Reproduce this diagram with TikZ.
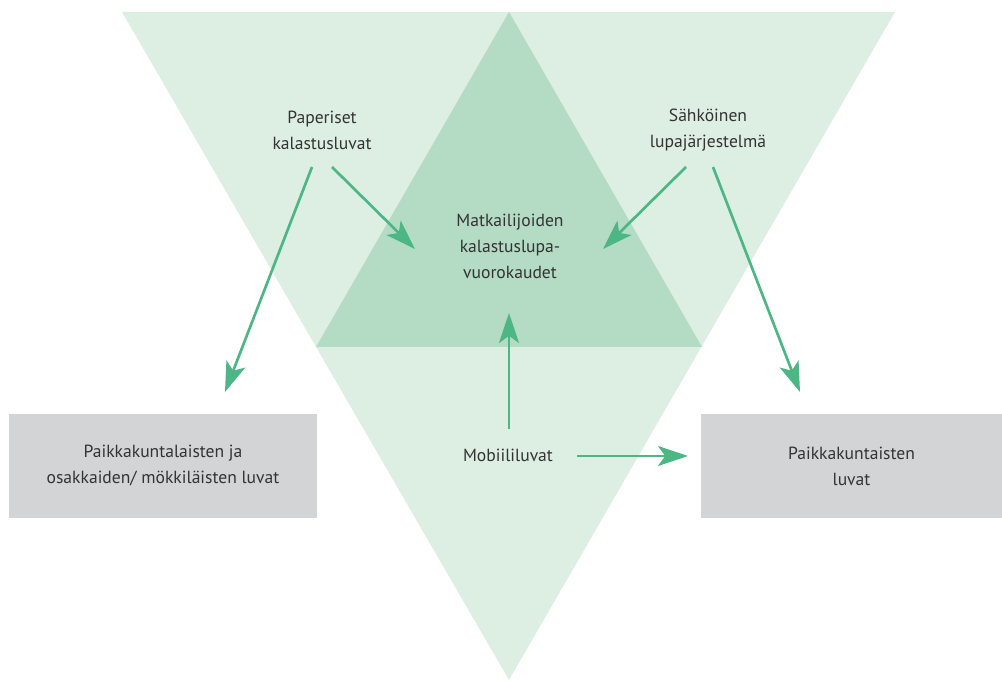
\documentclass[tikz,border=0pt]{standalone}
\usepackage{fontspec}
\setmainfont{PT Sans}
\usetikzlibrary{arrows.meta}
\definecolor{lightgreen}{HTML}{DDEEE2}
\definecolor{darkgreen}{HTML}{B4DBC4}
\definecolor{boxgray}{HTML}{D3D4D6}
\definecolor{arrowgreen}{HTML}{4DB685}
\definecolor{textgray}{HTML}{333333}
\tikzset{
	txt/.style={align=center,text=textgray,font=\fontsize{12.5}{18.5}\selectfont},
	permbox/.style={txt,fill=boxgray,minimum height=2.6cm},
	arr/.style={-{Stealth[length=0.75cm,width=0.5cm,inset=0.18cm]},line width=1.9pt,arrowgreen},
}
\begin{document}
\begin{tikzpicture}[x=0.025cm,y=-0.025cm]
		\useasboundingbox (0,0) rectangle (1002,682);
		% triangles
		\fill[lightgreen] (122,12) -- (895,12) -- (509,680) -- cycle;
		\fill[darkgreen] (316,347) -- (702,347) -- (509,12) -- cycle;
		% boxes
		\node[permbox,minimum width=7.675cm] (local) at (163,466) {Paikkakuntalaisten ja\\osakkaiden/ mökkiläisten luvat};
		\node[permbox,minimum width=7.525cm] (locals) at (851.5,466) {Paikkakuntaisten\\luvat};
		% texts
		\node[txt] (paper) at (322,130) {Paperiset\\kalastusluvat};
		\node[txt] (elec) at (708,130) {Sähköinen\\lupajärjestelmä};
		\node[txt] (tourist) at (510,246) {Matkailijoiden\\kalastuslupa-\\vuorokaudet};
		\node[txt] (mobile) at (508,455) {Mobiililuvat};
		% arrow ends
		\coordinate (paperL) at (312,167);
		\coordinate (paperR) at (332,167);
		\coordinate (elecL) at (686,167);
		\coordinate (elecR) at (713,167);
		\coordinate (localTip) at (225,392);
		\coordinate (localsTip) at (800,392);
		\coordinate (touristL) at (415,249);
		\coordinate (touristR) at (603,249);
		\coordinate (touristB) at (509,313);
		\coordinate (mobileUp) at (509,429);
		\coordinate (mobileR) at (577,456);
		\coordinate (localsL) at (688,456);
		% arrows
		\draw[arr] (paperL) -- (localTip);
		\draw[arr] (paperR) -- (touristL);
		\draw[arr] (elecL) -- (touristR);
		\draw[arr] (elecR) -- (localsTip);
		\draw[arr] (mobileUp) -- (touristB);
		\draw[arr] (mobileR) -- (localsL);
\end{tikzpicture}
\end{document}
